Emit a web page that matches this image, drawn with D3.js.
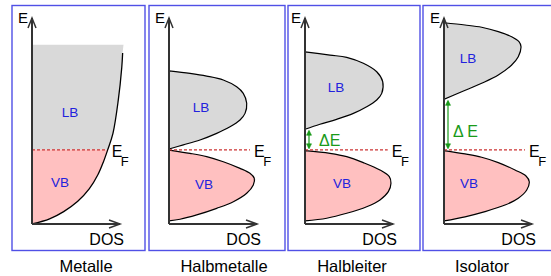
<!DOCTYPE html>
<html>
<head>
<meta charset="utf-8">
<script src="https://cdn.jsdelivr.net/npm/d3@7"></script>
<style>
  body { margin: 0; background: #fff; }
  svg { display: block; font-family: "Liberation Sans", Arial, sans-serif; }
</style>
</head>
<body>
<svg id="chart" width="551" height="276"></svg>
<script>
// Panel titles
var names = ["Metalle", "Halbmetalle", "Halbleiter", "Isolator"];

// Fermi level (E, arbitrary units 0..100)
var eFermi = 36;

// Metal: DOS(E) curve, [DOS, E]
var metalDos = [[0, 0], [20, 2.5], [36, 6], [52, 11], [65, 17], [75, 24], [81, 30], [86, 36], [92, 44], [98, 60], [102, 76], [103, 83]];
var metalTop = [104, 87];

// Leitungsband outlines, [DOS, E], from top edge to bottom edge
var lbHalbmetall = [[0, 74.3], [23.9, 73.1], [42.8, 71.8], [61.7, 69.9], [76.9, 66.6], [84.4, 63.4], [88.3, 58.6],
    [86.4, 53.7], [80.7, 50.5], [69.3, 47.2], [54.2, 44.0], [35.2, 40.8], [16.3, 38.4], [0, 36.4]];
var lbHalbleiter = [[0, 83.6], [28.4, 82.0], [47.4, 80.9], [66.3, 78.0], [81.5, 73.9], [88.3, 69.1], [87.2, 63.4],
    [81.5, 60.2], [70.1, 56.9], [55.0, 53.7], [35.9, 50.8], [17.0, 48.4], [0, 46.0]];
var lbIsolator = [[0, 97.7], [23.9, 96.6], [42.8, 95.5], [61.7, 93.4], [76.9, 90.9], [85.2, 88.5], [87.5, 86.1],
    [84.4, 81.2], [76.9, 77.2], [61.7, 72.3], [42.8, 68.3], [20.1, 64.2], [0, 60.5]];

// Valenzband outlines, [DOS, E]
var vbHalbmetall = [[0, 35.9], [23.9, 34.3], [42.8, 32.7], [61.7, 30.2], [80.7, 27.0], [92.0, 24.6], [96.9, 22.2],
    [95.8, 18.9], [88.3, 14.9], [73.1, 10.8], [54.2, 7.6], [31.5, 4.4], [12.5, 2.3], [0, 1.5]];
var vbHalbleiter = [[0, 35.6], [28.4, 34.3], [47.4, 32.7], [66.3, 29.8], [85.2, 26.2], [95.8, 23.0], [97.7, 19.8],
    [94.7, 15.7], [85.2, 11.7], [70.1, 8.4], [47.4, 5.2], [24.7, 2.8], [0, 1.5]];
var vbIsolator = [[0, 35.6], [23.9, 34.0], [42.8, 32.4], [61.7, 29.8], [80.7, 26.2], [93.2, 23.3], [96.9, 20.5],
    [94.0, 16.5], [84.4, 12.5], [69.3, 9.2], [46.6, 6.0], [23.9, 3.5], [0, 1.5]];

// Where the dashed Fermi line ends (DOS units)
var efEnd = [86, 92, 94, 92];
// band gap labels
var gapLabels = [null, null, "\u0394E", "\u0394 E"];

// ---- layout ----
var axisX0 = [32, 169, 305, 444];
var axisLen = 88;
var frames = [[12, 145], [149, 285], [288, 420], [423, 553]];
var frameTop = 5.5, frameBottom = 250.5;
var nameX = [86, 224, 352, 482];
var lbPos = [[70, 112], [201, 107], [336, 87], [468, 58]];
var vbPos = [[60, 182], [204, 184], [342, 183], [469, 183]];
var gapTextPos = [null, null, [319, 146], [453, 137]];

var grey = "#d9d9d9", pink = "#ffc0c0", blue = "#2222dd", green = "#1a9a1a";

var svg = d3.select("#chart");

var y = d3.scaleLinear().domain([0, 100]).range([224, 18]);

var lbs = [null, lbHalbmetall, lbHalbleiter, lbIsolator];
var vbs = [null, vbHalbmetall, vbHalbleiter, vbIsolator];

names.forEach(function(name, i) {
    var x = d3.scaleLinear().domain([0, 100]).range([axisX0[i], axisX0[i] + axisLen]);
    var g = svg.append("g");

    // frame
    g.append("rect")
        .attr("x", frames[i][0])
        .attr("y", frameTop)
        .attr("width", frames[i][1] - frames[i][0])
        .attr("height", frameBottom - frameTop)
        .attr("fill", "none")
        .attr("stroke", "#5050e6")
        .attr("stroke-width", 1.4);

    var line = d3.line()
        .curve(d3.curveCatmullRom)
        .x(function(d) { return x(d[0]); })
        .y(function(d) { return y(d[1]); });

    if (i === 0) {
        // metal: filled up to the Fermi level, empty states shown grey
        var area = d3.area()
            .curve(d3.curveCatmullRom)
            .y(function(d) { return y(d[1]); })
            .x0(x(0))
            .x1(function(d) { return x(d[0]); });
        var upper = metalDos.filter(function(d) { return d[1] >= eFermi; }).concat([metalTop]);
        var lower = metalDos.filter(function(d) { return d[1] <= eFermi; });
        g.append("path").attr("d", area(upper)).attr("fill", grey);
        g.append("path").attr("d", area(lower)).attr("fill", pink);
        g.append("line")
            .attr("x1", x(0)).attr("x2", x(efEnd[i]))
            .attr("y1", y(eFermi)).attr("y2", y(eFermi))
            .attr("stroke", "#cc3333").attr("stroke-width", 1.2)
            .attr("stroke-dasharray", "3,2");
        g.append("path").attr("d", line(metalDos))
            .attr("fill", "none").attr("stroke", "#000").attr("stroke-width", 1.3);
    } else {
        g.append("path").attr("d", line(lbs[i]) + "Z")
            .attr("fill", grey).attr("stroke", "#000").attr("stroke-width", 1.2);
        g.append("path").attr("d", line(vbs[i]) + "Z")
            .attr("fill", pink).attr("stroke", "#000").attr("stroke-width", 1.2);
        g.append("line")
            .attr("x1", x(0)).attr("x2", x(efEnd[i]))
            .attr("y1", y(eFermi)).attr("y2", y(eFermi))
            .attr("stroke", "#cc3333").attr("stroke-width", 1.2)
            .attr("stroke-dasharray", "3,2");
    }

    // band gap arrow
    if (gapLabels[i]) {
        var gx = x(0) + 4;
        var gTop = y(lbs[i][lbs[i].length - 1][1]);
        var gBot = y(eFermi);
        g.append("line")
            .attr("x1", gx).attr("x2", gx)
            .attr("y1", gTop + 2).attr("y2", gBot - 2)
            .attr("stroke", green).attr("stroke-width", 1.2);
        g.append("path")
            .attr("d", "M" + (gx - 2.5) + "," + (gTop + 6) + "L" + gx + "," + (gTop + 1) + "L" + (gx + 2.5) + "," + (gTop + 6) + "Z")
            .attr("fill", green).attr("stroke", green).attr("stroke-width", 0.6);
        g.append("path")
            .attr("d", "M" + (gx - 2.5) + "," + (gBot - 6) + "L" + gx + "," + (gBot - 1) + "L" + (gx + 2.5) + "," + (gBot - 6) + "Z")
            .attr("fill", green).attr("stroke", green).attr("stroke-width", 0.6);
        g.append("text")
            .attr("x", gapTextPos[i][0]).attr("y", gapTextPos[i][1])
            .attr("fill", green).style("font-size", "16px")
            .text(gapLabels[i]);
    }

    // axes
    var ax = x(0), ay = y(0);
    g.append("path")
        .attr("d", "M" + ax + "," + ay + "V" + y(100) + "M" + ax + "," + ay + "H" + x(100))
        .attr("fill", "none").attr("stroke", "#333").attr("stroke-width", 2);
    g.append("path")
        .attr("d", "M" + (ax - 4) + "," + (y(100) + 10) + "L" + ax + "," + y(100) + "L" + (ax + 4) + "," + (y(100) + 10))
        .attr("fill", "none").attr("stroke", "#333").attr("stroke-width", 1.5);
    g.append("path")
        .attr("d", "M" + (x(100) - 11) + "," + (ay - 4) + "L" + x(100) + "," + ay + "L" + (x(100) - 11) + "," + (ay + 4))
        .attr("fill", "none").attr("stroke", "#333").attr("stroke-width", 1.5);

    g.append("text")
        .attr("x", ax - 14).attr("y", 23)
        .style("font-size", "15px")
        .text("E");
    g.append("text")
        .attr("x", x(100) + 4).attr("y", 245)
        .attr("text-anchor", "end")
        .style("font-size", "16px")
        .text("DOS");

    // Fermi label
    var ef = g.append("text")
        .attr("x", x(efEnd[i]) + 4).attr("y", y(eFermi) + 7)
        .style("font-size", "16px")
        .text("E");
    ef.append("tspan")
        .attr("dx", -1.5).attr("dy", 9)
        .style("font-size", "13px")
        .text("F");

    // band labels
    g.append("text")
        .attr("x", lbPos[i][0]).attr("y", lbPos[i][1] + 5)
        .attr("text-anchor", "middle")
        .attr("fill", blue).style("font-size", "13.5px")
        .text("LB");
    g.append("text")
        .attr("x", vbPos[i][0]).attr("y", vbPos[i][1] + 5)
        .attr("text-anchor", "middle")
        .attr("fill", blue).style("font-size", "13.5px")
        .text("VB");

    // title
    g.append("text")
        .attr("x", nameX[i]).attr("y", 272)
        .attr("text-anchor", "middle")
        .style("font-size", "16.5px")
        .text(name);
});
</script>
</body>
</html>
